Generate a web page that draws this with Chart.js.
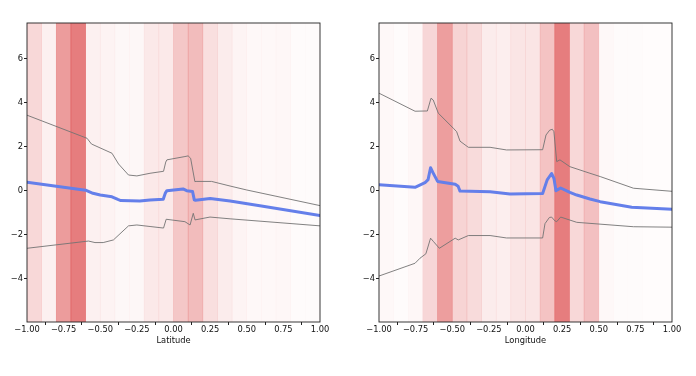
<!DOCTYPE html>
<html>
<head>
<meta charset="utf-8">
<script src="https://cdn.jsdelivr.net/npm/chart.js@4/dist/chart.umd.min.js"></script>
<style>
  html, body { margin: 0; padding: 0; background: #fff; }
  #wrap { position: relative; width: 696px; height: 376px; }
  canvas { position: absolute; top: 0; }
</style>
</head>
<body>
<div id="wrap">
  <canvas id="c1" width="348" height="376" style="left:0px"></canvas>
  <canvas id="c2" width="348" height="376" style="left:348px"></canvas>
</div>
<script>
// ---------- data ----------
const binCenters = [-0.95, -0.85, -0.75, -0.65, -0.55, -0.45, -0.35, -0.25, -0.15, -0.05,
                    0.05, 0.15, 0.25, 0.35, 0.45, 0.55, 0.65, 0.75, 0.85, 0.95];
const xTicks = [-1, -0.75, -0.5, -0.25, 0, 0.25, 0.5, 0.75, 1];
const yTicks = [-4, -2, 0, 2, 4, 6];

// Latitude panel
const latBandAlpha = [0.18, 0.07, 0.46, 0.60, 0.07, 0.055, 0.04, 0.04, 0.10, 0.10,
                      0.26, 0.31, 0.15, 0.09, 0.05, 0.03, 0.03, 0.035, 0.02, 0.02];
const latMeanX = [-1, -0.8, -0.6, -0.55, -0.5, -0.42, -0.38, -0.36, -0.23, -0.16, -0.07, -0.055, -0.045, 0.065, 0.09, 0.13, 0.142, 0.15, 0.25, 0.386, 0.6, 1];
const latMeanY = [0.38, 0.2, 0.02, -0.12, -0.2, -0.28, -0.4, -0.45, -0.47, -0.42, -0.39, -0.1, 0.0, 0.08, 0.0, -0.04, -0.42, -0.44, -0.36, -0.47, -0.7, -1.13];
const latUpperX = [-1, -0.59, -0.56, -0.42, -0.375, -0.307, -0.25, -0.16, -0.068, -0.053, -0.045, 0.078, 0.10, 0.117, 0.146, 0.154, 0.26, 0.386, 0.5, 1];
const latUpperY = [3.43, 2.38, 2.12, 1.70, 1.21, 0.71, 0.67, 0.79, 0.88, 1.3, 1.4, 1.55, 1.58, 1.47, 0.41, 0.42, 0.42, 0.21, 0.03, -0.68];
const latLowerX = [-1, -0.58, -0.536, -0.48, -0.41, -0.307, -0.25, -0.16, -0.068, -0.05, 0.078, 0.113, 0.135, 0.147, 0.249, 0.386, 1];
const latLowerY = [-2.62, -2.29, -2.36, -2.36, -2.24, -1.6, -1.56, -1.63, -1.70, -1.30, -1.41, -1.56, -1.03, -1.33, -1.2, -1.28, -1.6];

// Longitude panel
const lonBandAlpha = [0.03, 0.02, 0.035, 0.19, 0.45, 0.20, 0.17, 0.085, 0.08, 0.12,
                      0.12, 0.28, 0.60, 0.18, 0.29, 0.03, 0.02, 0.02, 0.01, 0.01];
const lonMeanX = [-1, -0.754, -0.686, -0.665, -0.648, -0.63, -0.6, -0.48, -0.46, -0.447, -0.242, -0.106, 0.117, 0.148, 0.178, 0.194, 0.208, 0.24, 0.303, 0.35, 0.44, 0.51, 0.725, 1];
const lonMeanY = [0.27, 0.15, 0.36, 0.5, 1.04, 0.8, 0.42, 0.29, 0.2, -0.02, -0.05, -0.15, -0.13, 0.49, 0.78, 0.56, 0.0, 0.12, -0.08, -0.2, -0.38, -0.5, -0.75, -0.85];
const lonUpperX = [-1, -0.754, -0.686, -0.67, -0.645, -0.63, -0.595, -0.493, -0.47, -0.447, -0.39, -0.242, -0.13, 0.117, 0.14, 0.165, 0.183, 0.194, 0.213, 0.235, 0.303, 0.44, 0.51, 0.737, 1];
const lonUpperY = [4.43, 3.61, 3.62, 3.62, 4.2, 4.12, 3.52, 2.84, 2.68, 2.25, 1.97, 1.97, 1.85, 1.86, 2.53, 2.75, 2.79, 2.68, 1.32, 1.4, 1.09, 0.79, 0.64, 0.11, -0.03];
const lonLowerX = [-1, -0.754, -0.72, -0.68, -0.648, -0.63, -0.588, -0.48, -0.459, -0.39, -0.242, -0.13, 0.117, 0.133, 0.163, 0.178, 0.202, 0.213, 0.24, 0.35, 0.737, 1];
const lonLowerY = [-3.88, -3.3, -3.07, -2.87, -2.16, -2.3, -2.62, -2.16, -2.24, -2.04, -2.04, -2.15, -2.15, -1.5, -1.22, -1.2, -1.38, -1.41, -1.2, -1.44, -1.64, -1.66];

// ---------- chart ----------
const Y_MIN = -5.97, Y_MAX = 7.62;
const FONT = { family: 'DejaVu Sans', size: 8.3 };

function pts(xs, ys) { return xs.map((x, i) => ({ x: x, y: ys[i] })); }
function fmt(v, digits) {
  const s = Math.abs(v).toFixed(digits);
  return v < 0 ? '\u2212' + s : s;
}

const boxPlugin = {
  id: 'box',
  afterDatasetsDraw(chart) {
    const a = chart.chartArea, ctx = chart.ctx;
    ctx.save();
    ctx.strokeStyle = '#222';
    ctx.lineWidth = 0.9;
    ctx.strokeRect(a.left, a.top, a.right - a.left, a.bottom - a.top);
    ctx.restore();
  }
};

function makeChart(id, title, alphas, mean, upper, lower, yAxisWidth, rightPad) {
  new Chart(document.getElementById(id), {
    type: 'bar',
    data: {
      datasets: [
        {
          type: 'line', data: upper, borderColor: 'rgba(115,115,115,0.9)', borderWidth: 1,
          pointRadius: 0, tension: 0, order: 1
        },
        {
          type: 'line', data: lower, borderColor: 'rgba(115,115,115,0.9)', borderWidth: 1,
          pointRadius: 0, tension: 0, order: 1
        },
        {
          type: 'line', data: mean, borderColor: 'rgb(100,127,234)', borderWidth: 3,
          pointRadius: 0, tension: 0, order: 0, borderCapStyle: 'round', borderJoinStyle: 'round'
        },
        {
          type: 'bar',
          data: binCenters.map(c => ({ x: c, y: [Y_MIN, Y_MAX] })),
          backgroundColor: alphas.map(a => 'rgba(214,39,40,' + a + ')'),
          borderWidth: 0, barPercentage: 1, categoryPercentage: 1, grouped: false, order: 10
        }
      ]
    },
    options: {
      responsive: false, animation: false, devicePixelRatio: 1,
      layout: { padding: { left: 0, top: 23, right: rightPad, bottom: 0 } },
      plugins: { legend: { display: false }, tooltip: { enabled: false } },
      scales: {
        x: {
          type: 'linear', min: -1, max: 1, offset: false,
          afterBuildTicks: ax => { ax.ticks = xTicks.map(v => ({ value: v })); },
          afterFit: ax => { ax.height = 54; },
          ticks: { font: FONT, color: '#111', padding: 0, maxRotation: 0, autoSkip: false,
                   callback: v => fmt(v, 2) },
          grid: { drawOnChartArea: false, drawTicks: true, tickLength: 3, color: '#222' },
          border: { display: false },
          title: { display: true, text: title, font: FONT, color: '#111', padding: { top: 0, bottom: 30 } }
        },
        y: {
          type: 'linear', min: Y_MIN, max: Y_MAX,
          afterBuildTicks: ax => { ax.ticks = yTicks.map(v => ({ value: v })); },
          afterFit: ax => { ax.width = yAxisWidth; },
          ticks: { font: FONT, color: '#111', padding: 1, callback: v => fmt(v, 0) },
          grid: { drawOnChartArea: false, drawTicks: true, tickLength: 3, color: '#222' },
          border: { display: false }
        }
      }
    },
    plugins: [boxPlugin]
  });
}

makeChart('c1', 'Latitude', latBandAlpha, pts(latMeanX, latMeanY), pts(latUpperX, latUpperY), pts(latLowerX, latLowerY), 27, 28);
makeChart('c2', 'Longitude', lonBandAlpha, pts(lonMeanX, lonMeanY), pts(lonUpperX, lonUpperY), pts(lonLowerX, lonLowerY), 31, 24);
</script>
</body>
</html>
